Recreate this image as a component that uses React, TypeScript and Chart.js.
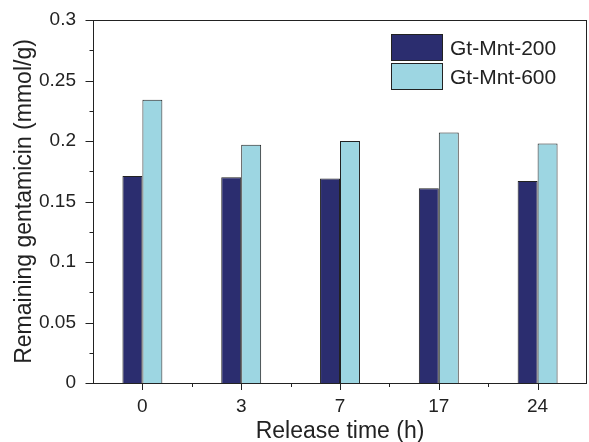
import React, { useEffect, useRef } from "react";
import { Chart, registerables } from "chart.js";

Chart.register(...registerables);

const categories = ["0", "3", "7", "17", "24"];
const seriesNames = ["Gt-Mnt-200", "Gt-Mnt-600"];
const gtMnt200 = [0.171, 0.170, 0.169, 0.161, 0.167];
const gtMnt600 = [0.234, 0.197, 0.200, 0.207, 0.198];
const colors = ["#2b2d6f", "#9dd6e2"];
const xTitle = "Release time (h)";
const yTitle = "Remaining gentamicin (mmol/g)";

const FONT = "'Liberation Sans', Arial, sans-serif";

const framePlugin = {
  id: "frame",
  afterDraw(chart: any) {
    const { ctx, chartArea: a, scales } = chart;
    const x = scales.x;
    const y = scales.y;
    ctx.save();
    ctx.strokeStyle = "#222";
    ctx.lineWidth = 1;
    // frame
    ctx.strokeRect(a.left + 0.5, a.top + 0.5, a.right - a.left - 1, a.bottom - a.top);
    ctx.beginPath();
    // y ticks (major + minor)
    for (let v = 0; v <= 0.3001; v += 0.025) {
      const py = Math.round(y.getPixelForValue(v)) + 0.5;
      const major = Math.round(v * 1000) % 50 === 0;
      ctx.moveTo(a.left + 0.5, py);
      ctx.lineTo(a.left + 0.5 - (major ? 8 : 4), py);
    }
    // x ticks
    const n = categories.length;
    for (let i = 0; i < n; i++) {
      const px = Math.round(x.getPixelForValue(i)) + 0.5;
      ctx.moveTo(px, a.bottom);
      ctx.lineTo(px, a.bottom + 7);
      if (i < n - 1) {
        const bx = Math.round((x.getPixelForValue(i) + x.getPixelForValue(i + 1)) / 2) + 0.5;
        ctx.moveTo(bx, a.bottom);
        ctx.lineTo(bx, a.bottom + 4);
      }
    }
    ctx.stroke();

    // titles
    ctx.fillStyle = "#222";
    ctx.font = `23px ${FONT}`;
    ctx.textAlign = "center";
    ctx.textBaseline = "alphabetic";
    ctx.fillText(xTitle, (a.left + a.right) / 2, 438);
    ctx.save();
    ctx.translate(31, (a.top + a.bottom) / 2);
    ctx.rotate(-Math.PI / 2);
    ctx.fillText(yTitle, 0, 0);
    ctx.restore();

    // legend
    const lx = 391;
    const ly = 34;
    const bw = 51;
    const bh = 26;
    ctx.font = `21px ${FONT}`;
    ctx.textAlign = "left";
    ctx.textBaseline = "middle";
    chart.data.datasets.forEach((ds: any, i: number) => {
      const top = ly + i * 29;
      ctx.fillStyle = ds.backgroundColor;
      ctx.fillRect(lx, top, bw, bh);
      ctx.strokeStyle = "#222";
      ctx.strokeRect(lx + 0.5, top + 0.5, bw, bh);
      ctx.fillStyle = "#222";
      ctx.fillText(ds.label, 450, top + bh / 2 + 2);
    });
    ctx.restore();
  },
};

export default function App() {
  const ref = useRef<HTMLCanvasElement>(null);
  useEffect(() => {
    document.body.style.margin = "0";
    const chart = new Chart(ref.current as HTMLCanvasElement, {
      type: "bar",
      data: {
        labels: categories,
        datasets: [
          {
            label: seriesNames[0],
            data: gtMnt200,
            backgroundColor: colors[0],
            borderColor: "#222",
            borderWidth: 1,
          },
          {
            label: seriesNames[1],
            data: gtMnt600,
            backgroundColor: colors[1],
            borderColor: "#222",
            borderWidth: 1,
          },
        ],
      },
      options: {
        animation: false,
        responsive: false,
        layout: { padding: { top: 20, right: 2, left: 0, bottom: 0 } },
        datasets: { bar: { categoryPercentage: 0.404, barPercentage: 1 } },
        plugins: { legend: { display: false }, tooltip: { enabled: false } },
        scales: {
          x: {
            grid: { display: false, drawTicks: false },
            border: { display: false },
            ticks: { font: { size: 19, family: FONT }, color: "#222", padding: 12 },
            afterFit: (s: any) => {
              s.height = 59;
              s.paddingLeft = 0;
              s.paddingRight = 0;
            },
          },
          y: {
            min: 0,
            max: 0.3,
            grid: { display: false, drawTicks: false },
            border: { display: false },
            ticks: {
              stepSize: 0.05,
              font: { size: 19, family: FONT },
              color: "#222",
              padding: 17,
              callback: (v: any) => String(Number(Number(v).toFixed(3))),
            },
            afterFit: (s: any) => {
              s.width = 93;
              s.paddingTop = 0;
              s.paddingBottom = 0;
            },
          },
        },
      },
      plugins: [framePlugin],
    });
    return () => chart.destroy();
  }, []);
  return <canvas ref={ref} width={589} height={442} />;
}
